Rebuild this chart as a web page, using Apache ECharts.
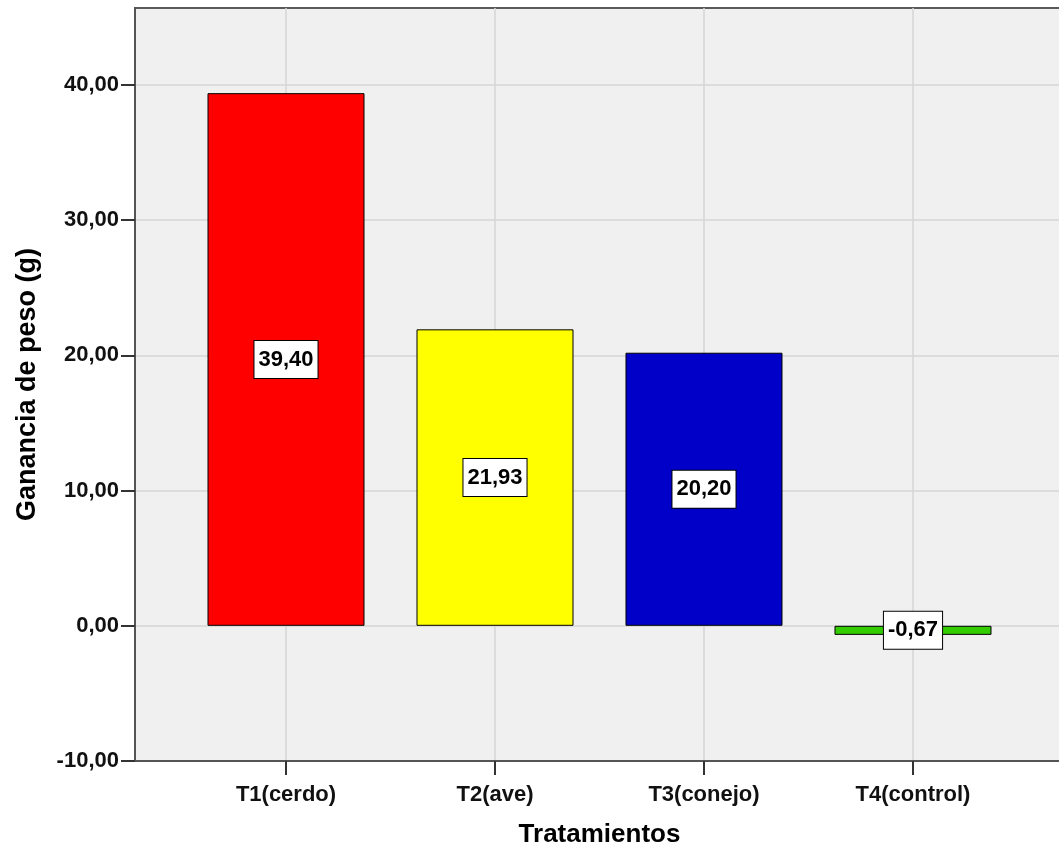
<!DOCTYPE html>
<html>
<head>
<meta charset="utf-8">
<script src="https://cdn.jsdelivr.net/npm/echarts@6/dist/echarts.min.js"></script>
<style>
  html, body { margin: 0; padding: 0; background: #fff; }
  #chart { width: 1059px; height: 854px; }
</style>
</head>
<body>
<div id="chart"></div>
<script>
// ---- data ----
const categories = ['T1(cerdo)', 'T2(ave)', 'T3(conejo)', 'T4(control)'];
const values = [39.40, 21.93, 20.20, -0.67];
const barColors = ['#FF0000', '#FFFF00', '#0000C8', '#33CC00'];
const yTicks = [-10, 0, 10, 20, 30, 40];
const catPositions = [1, 2, 3, 4];

const FONT = "'Liberation Sans', Arial, sans-serif";
const fmt = v => Number(v).toFixed(2).replace('.', ',');

const chart = echarts.init(document.getElementById('chart'), null, { renderer: 'canvas' });

chart.setOption({
  animation: false,
  backgroundColor: '#ffffff',
  textStyle: { fontFamily: FONT },
  grid: {
    left: 135, top: 8, right: -5, bottom: 93,
    containLabel: false,
    outerBoundsMode: 'none',
    show: true,
    backgroundColor: '#F0F0F0',
    borderColor: '#5a5a5a',
    borderWidth: 2
  },
  xAxis: {
    type: 'value',
    min: 0.2775,
    max: 4.7225,
    name: 'Tratamientos',
    nameLocation: 'middle',
    nameGap: 61,
    nameTextStyle: { fontFamily: FONT, fontSize: 26, fontWeight: 'bold', color: '#000' },
    axisLine: { show: true, onZero: false, lineStyle: { color: '#555', width: 2 } },
    axisTick: { show: true, customValues: catPositions, length: 14, lineStyle: { color: '#333', width: 2 } },
    axisLabel: {
      customValues: catPositions,
      formatter: v => categories[Math.round(v) - 1] || '',
      fontFamily: FONT, fontSize: 22, fontWeight: 'bold', color: '#111', margin: 23
    },
    splitLine: { show: true, lineStyle: { color: '#D6D6D6', width: 1.5 } }
  },
  yAxis: {
    type: 'value',
    min: -10,
    max: 45.7,
    name: 'Ganancia de peso (g)',
    nameLocation: 'middle',
    nameGap: 94,
    nameTextStyle: { fontFamily: FONT, fontSize: 27, fontWeight: 'bold', color: '#000' },
    axisLine: { show: true, onZero: false, lineStyle: { color: '#555', width: 2 } },
    axisTick: { show: true, customValues: yTicks, length: 14, lineStyle: { color: '#333', width: 2 } },
    axisLabel: {
      customValues: yTicks,
      formatter: v => fmt(v),
      fontFamily: FONT, fontSize: 22, fontWeight: 'bold', color: '#111', margin: 16
    },
    splitLine: { show: true, lineStyle: { color: '#D6D6D6', width: 1.5 } }
  },
  series: [{
    type: 'bar',
    barWidth: 157,
    data: values.map((v, i) => ({
      value: [catPositions[i], v],
      itemStyle: { color: barColors[i] }
    })),
    itemStyle: { borderColor: '#000', borderWidth: 1 },
    label: {
      show: true,
      position: 'inside',
      formatter: p => fmt(p.value[1]),
      fontFamily: FONT, fontSize: 22, fontWeight: 'bold', color: '#000',
      backgroundColor: '#ffffff',
      borderColor: '#000', borderWidth: 1,
      padding: [8, 4, 7, 4]
    }
  }]
});
</script>
</body>
</html>
